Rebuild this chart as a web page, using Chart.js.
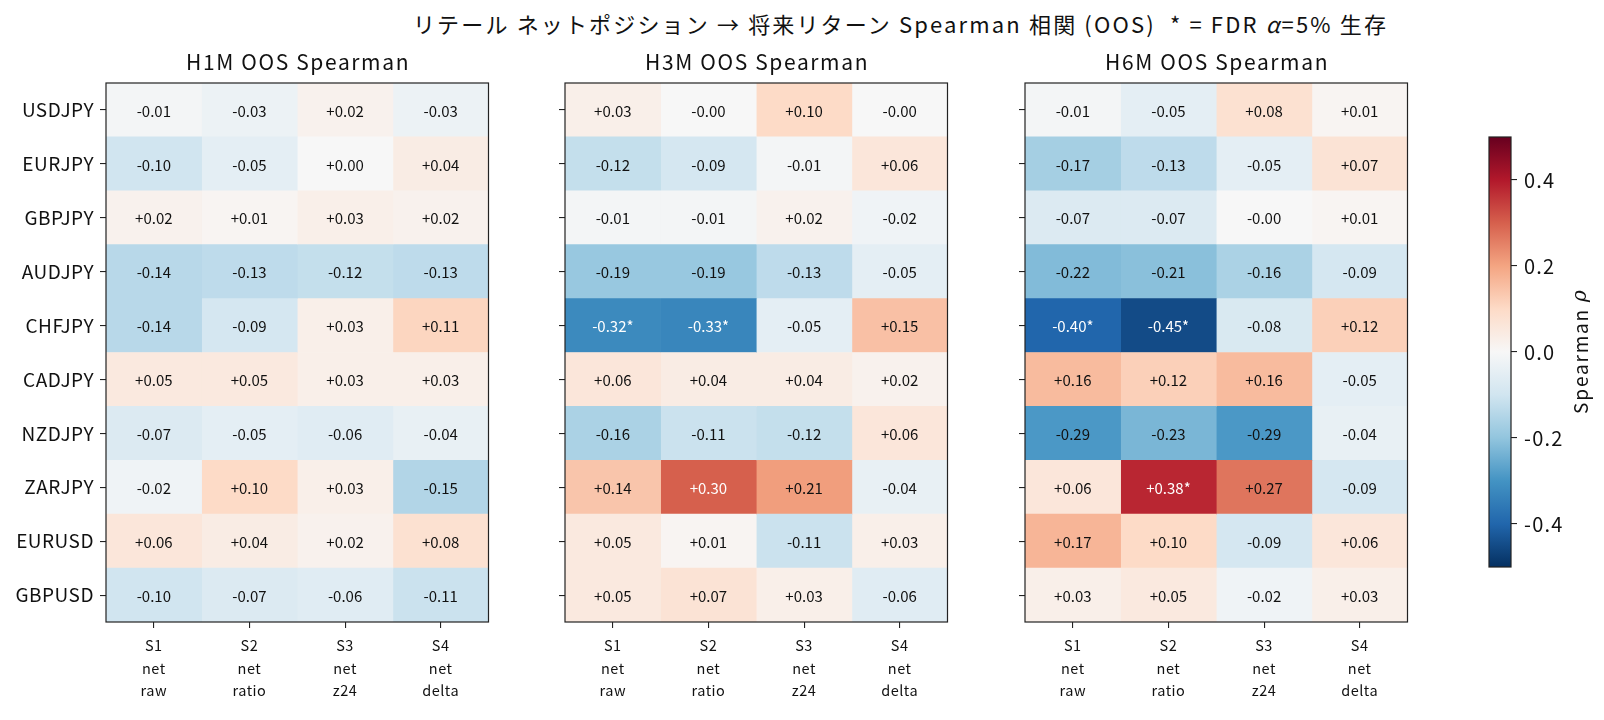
<!DOCTYPE html>
<html>
<head>
<meta charset="utf-8">
<script src="https://cdn.jsdelivr.net/npm/chart.js@4.4.1/dist/chart.umd.min.js"></script>
<style>
  html, body { margin: 0; padding: 0; background: #fff; }
  #wrap { position: relative; width: 1604px; height: 720px; overflow: hidden; }
  #wrap canvas { position: absolute; left: 0; top: 0; }
  #suptitle {
    position: absolute; left: 0; top: 7px; width: 1801px; text-align: center;
    color: #111; line-height: 30px; white-space: pre;
  }
  #suptitle span { font: 22px "Noto Sans CJK JP", sans-serif; }
</style>
</head>
<body>
<div id="wrap">
  <div id="suptitle"><span id="suptext">リテール ネットポジション → 将来リターン Spearman 相関 (OOS)  * = FDR <i>α</i>=5% 生存</span></div>
  <canvas id="h1m" width="1604" height="720"></canvas>
  <canvas id="h3m" width="1604" height="720"></canvas>
  <canvas id="h6m" width="1604" height="720"></canvas>
  <canvas id="cbar" width="1604" height="720"></canvas>
</div>
<script>
const FONT = '"Noto Sans CJK JP", sans-serif';

const pairs = ['USDJPY', 'EURJPY', 'GBPJPY', 'AUDJPY', 'CHFJPY', 'CADJPY', 'NZDJPY', 'ZARJPY', 'EURUSD', 'GBPUSD'];
const signals = [['S1', 'net', 'raw'], ['S2', 'net', 'ratio'], ['S3', 'net', 'z24'], ['S4', 'net', 'delta']];

// rows = pairs, cols = S1..S4
const h1m = [
  [-0.01, -0.03, 0.02, -0.03],
  [-0.10, -0.05, 0.00, 0.04],
  [0.02, 0.01, 0.03, 0.02],
  [-0.14, -0.13, -0.12, -0.13],
  [-0.14, -0.09, 0.03, 0.11],
  [0.05, 0.05, 0.03, 0.03],
  [-0.07, -0.05, -0.06, -0.04],
  [-0.02, 0.10, 0.03, -0.15],
  [0.06, 0.04, 0.02, 0.08],
  [-0.10, -0.07, -0.06, -0.11]
];
const h3m = [
  [0.03, -0.0, 0.10, -0.0],
  [-0.12, -0.09, -0.01, 0.06],
  [-0.01, -0.01, 0.02, -0.02],
  [-0.19, -0.19, -0.13, -0.05],
  [-0.32, -0.33, -0.05, 0.15],
  [0.06, 0.04, 0.04, 0.02],
  [-0.16, -0.11, -0.12, 0.06],
  [0.14, 0.30, 0.21, -0.04],
  [0.05, 0.01, -0.11, 0.03],
  [0.05, 0.07, 0.03, -0.06]
];
const h6m = [
  [-0.01, -0.05, 0.08, 0.01],
  [-0.17, -0.13, -0.05, 0.07],
  [-0.07, -0.07, -0.0, 0.01],
  [-0.22, -0.21, -0.16, -0.09],
  [-0.40, -0.45, -0.08, 0.12],
  [0.16, 0.12, 0.16, -0.05],
  [-0.29, -0.23, -0.29, -0.04],
  [0.06, 0.38, 0.27, -0.09],
  [0.17, 0.10, -0.09, 0.06],
  [0.03, 0.05, -0.02, 0.03]
];
// FDR survivors [row, col]
const h1mSig = [];
const h3mSig = [[4, 0], [4, 1]];
const h6mSig = [[4, 0], [4, 1], [7, 1]];

const cbarTicks = [-0.4, -0.2, 0.0, 0.2, 0.4];
const vmin = -0.5, vmax = 0.5;

// RdBu_r
const rdbuStops = ['#053061', '#2166ac', '#4393c3', '#92c5de', '#d1e5f0', '#f7f7f7',
  '#fddbc7', '#f4a582', '#d6604d', '#b2182b', '#67001f'];

function hexToRgb(h) {
  return [parseInt(h.slice(1, 3), 16), parseInt(h.slice(3, 5), 16), parseInt(h.slice(5, 7), 16)];
}

function rdbu(v) {
  let t = (v - vmin) / (vmax - vmin);
  t = Math.max(0, Math.min(1, t));
  const x = t * (rdbuStops.length - 1);
  const i = Math.min(Math.floor(x), rdbuStops.length - 2);
  const f = x - i;
  const a = hexToRgb(rdbuStops[i]), b = hexToRgb(rdbuStops[i + 1]);
  const c = a.map((ai, k) => Math.round(ai + (b[k] - ai) * f));
  return `rgb(${c[0]},${c[1]},${c[2]})`;
}

function fmt(v) {
  const sign = (v > 0 || Object.is(v, 0)) ? '+' : '-';
  return sign + Math.abs(v).toFixed(2);
}

// widen text to the width it has in the original (the original font is wider)
function spacingFor(ctx, text, target) {
  ctx.letterSpacing = '0px';
  const w = ctx.measureText(text).width;
  return Math.max(0, (target - w) / text.length);
}

// suptitle width
(function () {
  const el = document.getElementById('suptext');
  const w = el.getBoundingClientRect().width;
  const n = el.textContent.length;
  el.style.letterSpacing = Math.max(0, (975 - w) / n).toFixed(2) + 'px';
})();

// layout (px)
const AREA_TOP = 83, AREA_BOTTOM = 622;
const PANEL_W = 382.5;
const Y_AXIS_W = 100, X_AXIS_H = 92;

const framePlugin = {
  id: 'frame',
  afterDraw(chart) {
    const { ctx, chartArea: a } = chart;
    ctx.save();
    ctx.strokeStyle = '#222';
    ctx.lineWidth = 1.2;
    ctx.strokeRect(a.left, a.top, a.right - a.left, a.bottom - a.top);
    ctx.restore();
  }
};

// letter spacing for the tick labels
const spacingPlugin = {
  id: 'spacing',
  beforeUpdate(chart, args, opts) { chart.ctx.letterSpacing = opts.px + 'px'; },
  beforeDraw(chart, args, opts) { chart.ctx.letterSpacing = opts.px + 'px'; }
};

// cell annotations + panel title
const cellTextPlugin = {
  id: 'cellText',
  afterDatasetsDraw(chart, args, opts) {
    const { ctx, chartArea: a } = chart;
    const keep = ctx.letterSpacing;
    ctx.save();
    ctx.letterSpacing = '0px';
    ctx.font = `15px ${FONT}`;
    ctx.textAlign = 'center';
    ctx.textBaseline = 'middle';
    chart.data.datasets.forEach((ds, j) => {
      chart.getDatasetMeta(j).data.forEach((el, i) => {
        const v = opts.values[i][j];
        const star = opts.sig.some(s => s[0] === i && s[1] === j);
        const p = el.getCenterPoint();
        ctx.fillStyle = Math.abs(v) >= 0.295 ? '#fff' : '#111';
        ctx.fillText(fmt(v) + (star ? '*' : ''), p.x, p.y + 1);
      });
    });
    ctx.font = `21px ${FONT}`;
    const sp = spacingFor(ctx, opts.title, 224);
    ctx.letterSpacing = sp + 'px';
    ctx.fillStyle = '#111';
    ctx.textBaseline = 'alphabetic';
    ctx.fillText(opts.title, (a.left + a.right) / 2 + sp / 2, a.top - 13);
    ctx.restore();
    ctx.letterSpacing = keep;
  }
};

function makePanel(id, title, values, sig, left, showLabels) {
  const datasets = signals.map((s, j) => ({
    label: s.join(' '),
    data: pairs.map(() => 1),
    backgroundColor: values.map(row => rdbu(row[j])),
    borderWidth: 0,
    barPercentage: 1,
    categoryPercentage: 1
  }));
  return new Chart(document.getElementById(id), {
    type: 'bar',
    data: { labels: pairs, datasets },
    options: {
      indexAxis: 'y',
      responsive: false,
      animation: false,
      events: [],
      layout: {
        padding: {
          left: left - Y_AXIS_W,
          right: 1604 - (left + PANEL_W),
          top: AREA_TOP,
          bottom: 720 - AREA_BOTTOM - X_AXIS_H
        }
      },
      scales: {
        x: {
          type: 'linear',
          stacked: true,
          min: 0,
          max: signals.length,
          position: 'bottom',
          afterBuildTicks: (scale) => {
            scale.ticks = signals.map((s, j) => ({ value: j + 0.5 }));
          },
          afterFit: (scale) => { scale.height = X_AXIS_H; },
          ticks: {
            autoSkip: false,
            maxRotation: 0,
            padding: 6,
            color: '#111',
            font: { family: FONT, size: 14.5, lineHeight: 1.57 },
            callback: (v, i) => signals[i]
          },
          grid: { drawOnChartArea: false, drawTicks: true, tickLength: 6, color: '#222', lineWidth: 1.1 },
          border: { display: false }
        },
        y: {
          type: 'category',
          stacked: true,
          offset: true,
          afterFit: (scale) => { scale.width = Y_AXIS_W; },
          ticks: {
            padding: 6,
            color: '#111',
            font: { family: FONT, size: 19 },
            callback: function (v, i) { return showLabels ? pairs[i] : ''; }
          },
          grid: { offset: false, drawOnChartArea: false, drawTicks: true, tickLength: 6, color: '#222', lineWidth: 1.1 },
          border: { display: false }
        }
      },
      plugins: {
        legend: { display: false },
        tooltip: { enabled: false },
        spacing: { px: 0.5 },
        cellText: { values, sig, title }
      }
    },
    plugins: [spacingPlugin, cellTextPlugin, framePlugin]
  });
}

makePanel('h1m', 'H1M OOS Spearman', h1m, h1mSig, 106, true);
makePanel('h3m', 'H3M OOS Spearman', h3m, h3mSig, 565, false);
makePanel('h6m', 'H6M OOS Spearman', h6m, h6mSig, 1025, false);

// colorbar
const CB_LEFT = 1489, CB_RIGHT = 1511, CB_TOP = 137, CB_BOTTOM = 567, CB_AXIS_W = 60;

const cbarLabelPlugin = {
  id: 'cbarLabel',
  afterDraw(chart) {
    const { ctx } = chart;
    const keep = ctx.letterSpacing;
    ctx.save();
    ctx.translate(1581, (CB_TOP + CB_BOTTOM) / 2);
    ctx.rotate(-Math.PI / 2);
    ctx.fillStyle = '#111';
    ctx.textBaseline = 'middle';
    ctx.textAlign = 'left';
    const main = 'Spearman ';
    ctx.font = `19px ${FONT}`;
    const sp = spacingFor(ctx, main, 112);
    ctx.letterSpacing = sp + 'px';
    const w1 = ctx.measureText(main).width;
    ctx.letterSpacing = '0px';
    ctx.font = `italic 20px "DejaVu Serif", serif`;
    const w2 = ctx.measureText('ρ').width;
    const x0 = -(w1 + w2) / 2;
    ctx.font = `19px ${FONT}`;
    ctx.letterSpacing = sp + 'px';
    ctx.fillText(main, x0, 0);
    ctx.letterSpacing = '0px';
    ctx.font = `italic 20px "DejaVu Serif", serif`;
    ctx.fillText('ρ', x0 + w1, 0);
    ctx.restore();
    ctx.letterSpacing = keep;
  }
};

new Chart(document.getElementById('cbar'), {
  type: 'bar',
  data: {
    labels: [''],
    datasets: [{
      data: [[vmin, vmax]],
      borderWidth: 0,
      barPercentage: 1,
      categoryPercentage: 1,
      backgroundColor: (c) => {
        const { chart } = c;
        if (!chart.chartArea) return '#f7f7f7';
        const y = chart.scales.y;
        const g = chart.ctx.createLinearGradient(0, y.getPixelForValue(vmin), 0, y.getPixelForValue(vmax));
        rdbuStops.forEach((col, k) => g.addColorStop(k / (rdbuStops.length - 1), col));
        return g;
      }
    }]
  },
  options: {
    responsive: false,
    animation: false,
    events: [],
    layout: {
      padding: { left: CB_LEFT, right: 1604 - CB_RIGHT - CB_AXIS_W, top: CB_TOP, bottom: 720 - CB_BOTTOM }
    },
    scales: {
      x: { display: false },
      y: {
        position: 'right',
        min: vmin,
        max: vmax,
        afterBuildTicks: (scale) => { scale.ticks = cbarTicks.map(v => ({ value: v })); },
        afterFit: (scale) => { scale.width = CB_AXIS_W; },
        ticks: {
          padding: 7,
          color: '#111',
          font: { family: FONT, size: 20 },
          callback: (v) => v.toFixed(1)
        },
        grid: { drawOnChartArea: false, drawTicks: true, tickLength: 6, color: '#222', lineWidth: 1.1 },
        border: { display: false }
      }
    },
    plugins: { legend: { display: false }, tooltip: { enabled: false }, spacing: { px: 1.2 } }
  },
  plugins: [spacingPlugin, framePlugin, cbarLabelPlugin]
});
</script>
</body>
</html>
